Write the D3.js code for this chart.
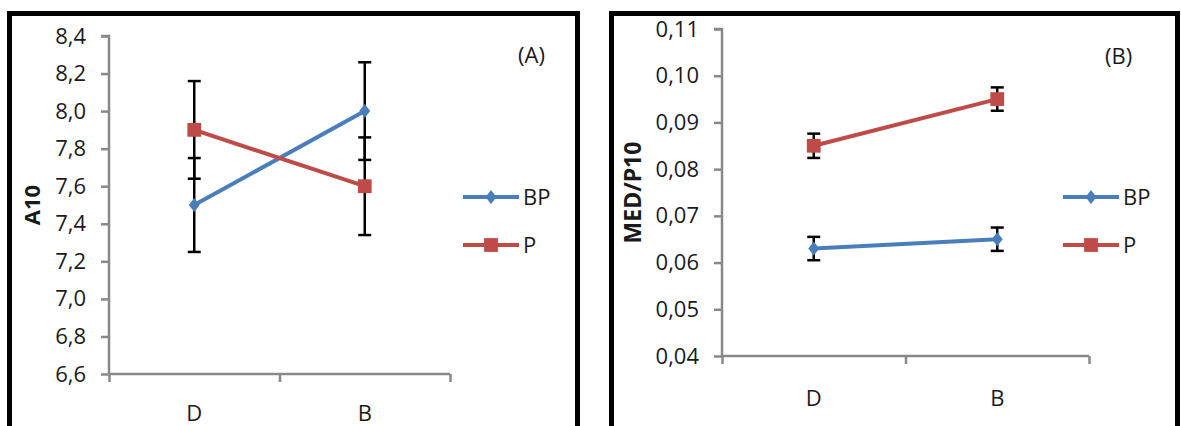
<!DOCTYPE html>
<html>
<head>
<meta charset="utf-8">
<script src="https://cdn.jsdelivr.net/npm/d3@7/dist/d3.min.js"></script>
<style>
  html, body { margin: 0; padding: 0; background: #ffffff; }
  svg { display: block; }
  text { font-family: "Open Sans", "Noto Sans", sans-serif; fill: #1a1a1a; }
</style>
</head>
<body>
<svg id="chart" width="1181" height="426"></svg>
<script>
// Groups on the x axis
const categories = ["D", "B"];
const seriesNames = ["BP", "P"];

// Panel A: A10 means and error half-widths
const a10BP = [7.5, 8.0];
const a10BPErr = [0.25, 0.26];
const a10P = [7.9, 7.6];
const a10PErr = [0.26, 0.26];
const a10Ticks = [6.6, 6.8, 7.0, 7.2, 7.4, 7.6, 7.8, 8.0, 8.2, 8.4];

// Panel B: MED/P10 means and error half-widths
const medBP = [0.063, 0.065];
const medBPErr = [0.0025, 0.0025];
const medP = [0.085, 0.095];
const medPErr = [0.0026, 0.0025];
const medTicks = [0.04, 0.05, 0.06, 0.07, 0.08, 0.09, 0.10, 0.11];

const colors = { BP: "#4a7ebb", P: "#be4b48" };
const axisColor = "#888888";
const fontSize = 22;
const svgHeight = 426;

// marker shapes: a tall diamond for BP, a square for P
const tallDiamond = {
  draw(ctx) {
    ctx.moveTo(0, -7); ctx.lineTo(5.5, 0); ctx.lineTo(0, 7); ctx.lineTo(-5.5, 0); ctx.closePath();
  }
};
const markerPath = name => name === "BP"
  ? d3.symbol().type(tallDiamond)()
  : d3.symbol().type(d3.symbolSquare).size(190)();

const svg = d3.select("#chart");

function drawPanel(cfg) {
  const g = svg.append("g");

  // outer frame
  g.append("rect")
    .attr("x", cfg.frame[0]).attr("y", cfg.frame[1])
    .attr("width", cfg.frame[2]).attr("height", cfg.frame[3])
    .attr("fill", "none").attr("stroke", "#000").attr("stroke-width", 5);

  const y = d3.scaleLinear().domain(cfg.domain).range([cfg.plot.bottom, cfg.plot.top]);
  const x = d3.scaleBand().domain(categories).range([cfg.plot.left, cfg.plot.right]).padding(0);
  const xEdge = d3.scaleLinear().domain([0, categories.length]).range([cfg.plot.left, cfg.plot.right]);

  // y axis
  const yAxis = g.append("g")
    .attr("transform", `translate(${cfg.plot.left},0)`)
    .call(d3.axisLeft(y).tickValues(cfg.ticks).tickSize(8).tickPadding(15)
      .tickFormat(d => d3.format(cfg.fmt)(d).replace(".", ",")));
  yAxis.select(".domain").attr("stroke", axisColor).attr("stroke-width", 2.5)
    .attr("d", `M-8,${cfg.plot.top}H0V${cfg.plot.bottom}`);
  yAxis.selectAll(".tick line").attr("stroke", axisColor).attr("stroke-width", 2.5);
  yAxis.selectAll(".tick text").attr("font-size", fontSize).attr("fill", "#1a1a1a")
    .attr("font-family", '"Open Sans", sans-serif');

  // x axis: tick marks on category boundaries
  const xAxis = g.append("g")
    .attr("transform", `translate(0,${cfg.plot.bottom})`)
    .call(d3.axisBottom(xEdge).tickValues(d3.range(categories.length + 1)).tickSize(8).tickFormat(""));
  xAxis.select(".domain").attr("stroke", axisColor).attr("stroke-width", 2.5)
    .attr("d", `M${cfg.plot.left},0H${cfg.plot.right}`);
  xAxis.selectAll(".tick line").attr("stroke", axisColor).attr("stroke-width", 2.5);

  // category labels, kept inside the bottom edge
  g.selectAll(".cat").data(categories).join("text")
    .attr("x", d => x(d) + x.bandwidth() / 2)
    .attr("y", Math.min(cfg.plot.bottom + 50, svgHeight - 5))
    .attr("text-anchor", "middle")
    .attr("font-size", fontSize)
    .text(d => d);

  // axis title
  g.append("text")
    .attr("transform", `translate(${cfg.titleX},${(cfg.plot.top + cfg.plot.bottom) / 2}) rotate(-90)`)
    .attr("text-anchor", "middle")
    .attr("font-size", cfg.titleSize).attr("font-weight", "bold")
    .text(cfg.title);

  // panel tag
  g.append("text")
    .attr("x", cfg.tag[0]).attr("y", cfg.tag[1])
    .attr("font-size", fontSize)
    .text(cfg.tagText);

  const series = [
    { name: "BP", values: cfg.bp, err: cfg.bpErr },
    { name: "P", values: cfg.p, err: cfg.pErr }
  ];
  const cx = d => x(d) + x.bandwidth() / 2;

  // error bars
  series.forEach(s => {
    categories.forEach((c, i) => {
      const lo = y(s.values[i] - s.err[i]);
      const hi = y(s.values[i] + s.err[i]);
      const xc = cx(c);
      g.append("line").attr("x1", xc).attr("x2", xc).attr("y1", lo).attr("y2", hi)
        .attr("stroke", "#000").attr("stroke-width", 2.5);
      [lo, hi].forEach(v => {
        g.append("line").attr("x1", xc - 6.5).attr("x2", xc + 6.5).attr("y1", v).attr("y2", v)
          .attr("stroke", "#000").attr("stroke-width", 2.5);
      });
    });
  });

  // lines and markers
  const line = d3.line().x((d, i) => cx(categories[i])).y(d => y(d));
  series.forEach(s => {
    g.append("path").datum(s.values)
      .attr("d", line).attr("fill", "none")
      .attr("stroke", colors[s.name]).attr("stroke-width", 4);
    g.selectAll(null).data(s.values).join("path")
      .attr("transform", (d, i) => `translate(${cx(categories[i])},${y(d)})`)
      .attr("d", markerPath(s.name))
      .attr("fill", colors[s.name]);
  });

  // legend
  series.forEach((s, i) => {
    const ly = cfg.legend[1] + i * 48;
    const lx = cfg.legend[0];
    g.append("line").attr("x1", lx).attr("x2", lx + 56).attr("y1", ly).attr("y2", ly)
      .attr("stroke", colors[s.name]).attr("stroke-width", 4);
    g.append("path").attr("transform", `translate(${lx + 28},${ly})`)
      .attr("d", markerPath(s.name)).attr("fill", colors[s.name]);
    g.append("text").attr("x", lx + 60).attr("y", ly + 8)
      .attr("font-size", fontSize).text(s.name);
  });
}

drawPanel({
  frame: [9.5, 13.5, 568, 430],
  plot: { left: 109, right: 450, top: 36, bottom: 374 },
  domain: [6.6, 8.4], ticks: a10Ticks, fmt: ".1f",
  title: "A10", titleX: 40, titleSize: 22,
  tag: [518, 63], tagText: "(A)",
  legend: [463, 197],
  bp: a10BP, bpErr: a10BPErr, p: a10P, pErr: a10PErr
});

drawPanel({
  frame: [611.5, 13.5, 566, 430],
  plot: { left: 722, right: 1089, top: 29, bottom: 356 },
  domain: [0.04, 0.11], ticks: medTicks, fmt: ".2f",
  title: "MED/P10", titleX: 641, titleSize: 23,
  tag: [1105, 64], tagText: "(B)",
  legend: [1063, 197],
  bp: medBP, bpErr: medBPErr, p: medP, pErr: medPErr
});
</script>
</body>
</html>
